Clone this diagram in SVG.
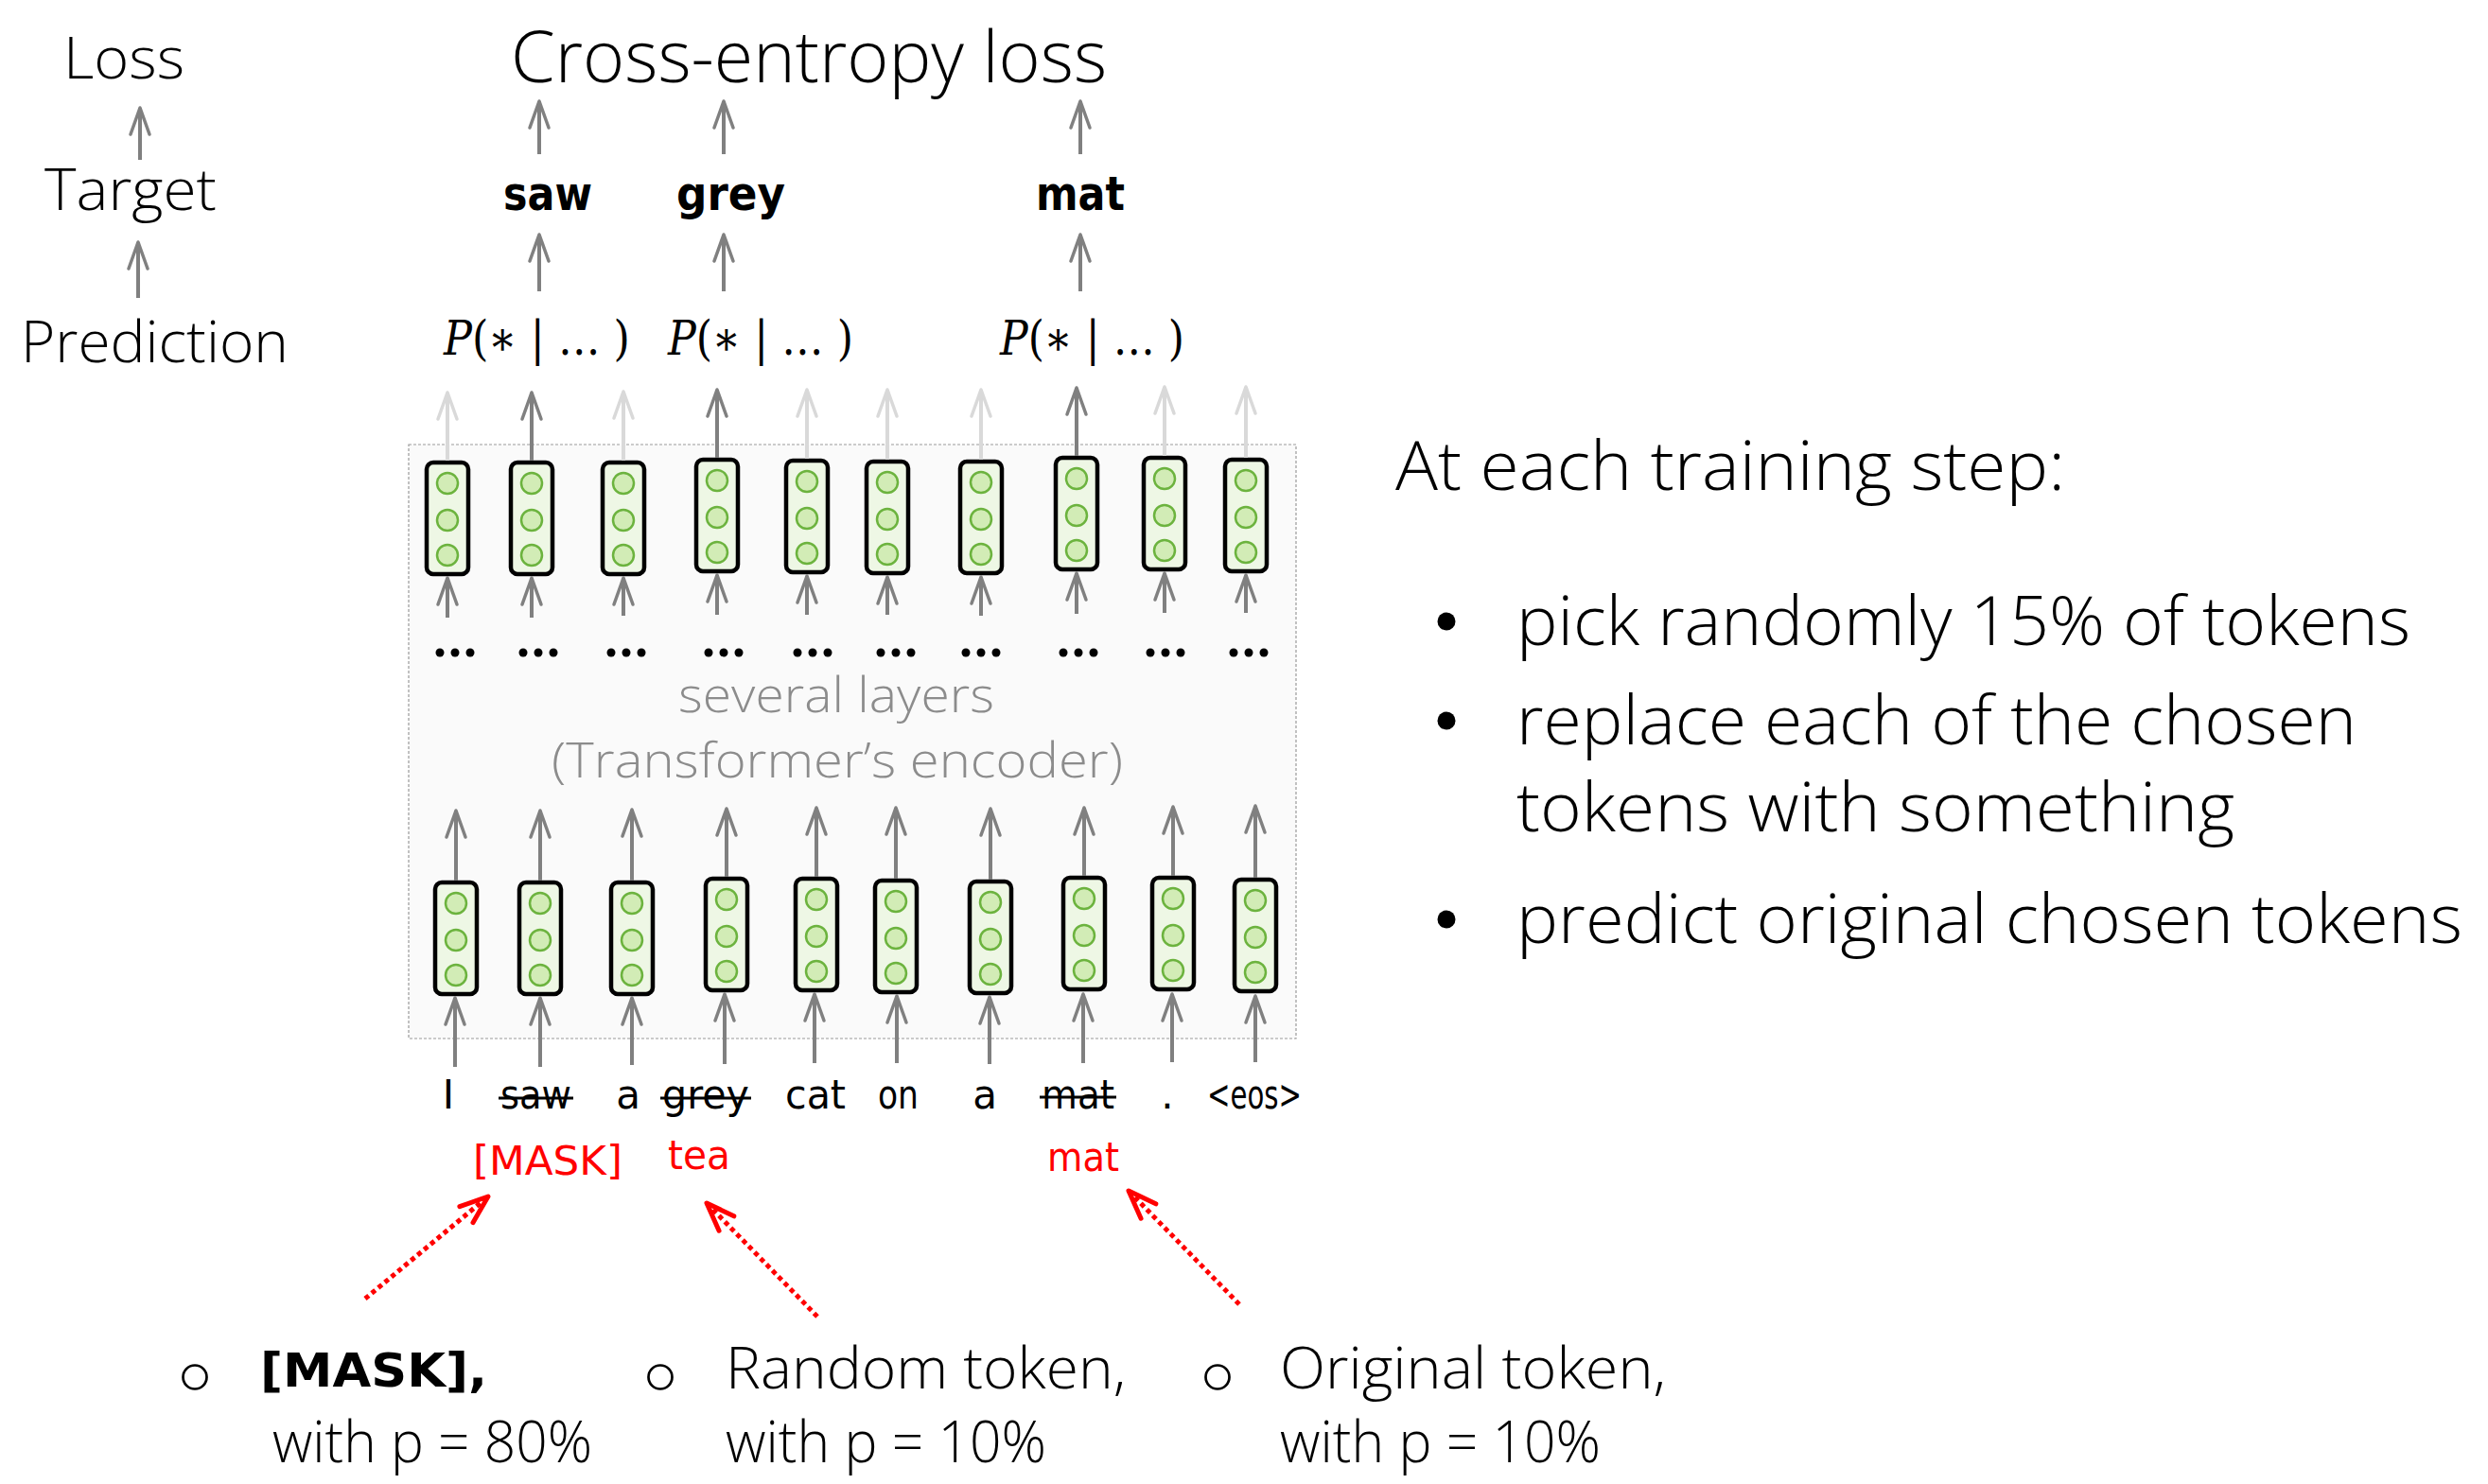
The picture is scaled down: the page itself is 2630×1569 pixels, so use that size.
<svg xmlns="http://www.w3.org/2000/svg" xmlns:xlink="http://www.w3.org/1999/xlink" width="2630" height="1569" viewBox="0 0 2630 1569">
<style>
.lbl{font-family:"Open Sans","Liberation Sans",sans-serif;font-weight:300;fill:#000}
.gry{fill:#8c8c8c}
.tok{font-family:"DejaVu Sans","Liberation Sans",sans-serif;font-size:42px;fill:#000}
.tgt{font-family:"DejaVu Sans","Liberation Sans",sans-serif;font-size:50px;font-weight:bold;fill:#000}
.math{font-family:"DejaVu Serif","Liberation Serif",serif;font-size:50px;fill:#000}
.red{fill:#ff0000}
.strike{stroke:#000;stroke-width:3}
.vec rect{fill:#eef7e5;stroke:#000;stroke-width:4.5}
.vec circle{fill:#d2ecb6;stroke:#6cb33e;stroke-width:2.5}
.ad{stroke:#808080;stroke-width:4;fill:none}
.al{stroke:#d9d9d9;stroke-width:4;fill:none}
.ar{stroke:#ff0000;stroke-width:5;stroke-dasharray:5 4;fill:none}
.dots circle{fill:#000}
.bul{fill:#000}
.obul{fill:none;stroke:#000;stroke-width:2.7}
</style>
<defs>
<marker id="mDark" markerUnits="userSpaceOnUse" markerWidth="40" markerHeight="40" viewBox="-34 -20 40 40" refX="0" refY="0" orient="auto">
<path d="M-28,-10 L0,0 L-28,10" fill="none" stroke="#808080" stroke-width="3.5" stroke-linejoin="round" stroke-linecap="round"/>
</marker>
<marker id="mLight" markerUnits="userSpaceOnUse" markerWidth="40" markerHeight="40" viewBox="-34 -20 40 40" refX="0" refY="0" orient="auto">
<path d="M-28,-10 L0,0 L-28,10" fill="none" stroke="#d9d9d9" stroke-width="3.5" stroke-linejoin="round" stroke-linecap="round"/>
</marker>
<marker id="mRed" markerUnits="userSpaceOnUse" markerWidth="44" markerHeight="44" viewBox="-36 -22 44 44" refX="0" refY="0" orient="auto">
<path d="M-30,-11 L0,0 L-30,11" fill="none" stroke="#ff0000" stroke-width="5" stroke-linejoin="round" stroke-linecap="round"/>
</marker>
<g id="vecShape" class="vec">
<rect x="-22" y="2" width="44" height="118" rx="7"/>
<circle cx="0" cy="24" r="11"/>
<circle cx="0" cy="63" r="11"/>
<circle cx="0" cy="100" r="11"/>
</g>
<g id="dot3" class="dots">
<circle cx="-16" cy="0" r="4.5"/>
<circle cx="0" cy="0" r="4.5"/>
<circle cx="16" cy="0" r="4.5"/>
</g>
</defs>

<rect width="2630" height="1569" fill="#ffffff"/>

<g id="encoder-box">
<rect x="432" y="470" width="938" height="628" fill="#fafafa" stroke="#9a9a9a" stroke-width="1.2" stroke-dasharray="3 2"/>
<text class="lbl gry" x="717" y="753" font-size="52" textLength="334" lengthAdjust="spacingAndGlyphs">several layers</text>
<text class="lbl gry" x="583" y="822" font-size="52" textLength="604" lengthAdjust="spacingAndGlyphs">(Transformer’s encoder)</text>
</g>

<g id="row-labels">
<text class="lbl" x="67" y="83" font-size="60" textLength="128" lengthAdjust="spacingAndGlyphs">Loss</text>
<text class="lbl" x="47" y="222" font-size="60" textLength="182" lengthAdjust="spacingAndGlyphs">Target</text>
<text class="lbl" x="22" y="383" font-size="60" textLength="283" lengthAdjust="spacingAndGlyphs">Prediction</text>
</g>

<g id="loss">
<text class="lbl" x="540" y="87" font-size="76" textLength="630" lengthAdjust="spacingAndGlyphs">Cross-entropy loss</text>
</g>

<g id="targets">
<text class="tgt" x="532" y="222" textLength="94" lengthAdjust="spacingAndGlyphs">saw</text>
<text class="tgt" x="715" y="222" textLength="115" lengthAdjust="spacingAndGlyphs">grey</text>
<text class="tgt" x="1095" y="222" textLength="94" lengthAdjust="spacingAndGlyphs">mat</text>
</g>

<g id="predictions">
<text class="math" x="469" y="375" textLength="197" lengthAdjust="spacingAndGlyphs"><tspan font-style="italic">P</tspan>(∗ | … )</text>
<text class="math" x="706" y="375" textLength="196" lengthAdjust="spacingAndGlyphs"><tspan font-style="italic">P</tspan>(∗ | … )</text>
<text class="math" x="1057" y="375" textLength="195" lengthAdjust="spacingAndGlyphs"><tspan font-style="italic">P</tspan>(∗ | … )</text>
</g>

<g id="top-vectors">
<use id="t1" xlink:href="#vecShape" transform="translate(473,487)"/>
<use id="t2" xlink:href="#vecShape" transform="translate(562,487)"/>
<use id="t3" xlink:href="#vecShape" transform="translate(659,487)"/>
<use id="t4" xlink:href="#vecShape" transform="translate(758,484)"/>
<use id="t5" xlink:href="#vecShape" transform="translate(853,485)"/>
<use id="t6" xlink:href="#vecShape" transform="translate(938,486)"/>
<use id="t7" xlink:href="#vecShape" transform="translate(1037,486)"/>
<use id="t8" xlink:href="#vecShape" transform="translate(1138,482)"/>
<use id="t9" xlink:href="#vecShape" transform="translate(1231,482)"/>
<use id="t10" xlink:href="#vecShape" transform="translate(1317,484)"/>
</g>

<g id="layer-dots">
<use xlink:href="#dot3" transform="translate(481,690)"/>
<use xlink:href="#dot3" transform="translate(569,690)"/>
<use xlink:href="#dot3" transform="translate(662,690)"/>
<use xlink:href="#dot3" transform="translate(765,690)"/>
<use xlink:href="#dot3" transform="translate(859,690)"/>
<use xlink:href="#dot3" transform="translate(947,690)"/>
<use xlink:href="#dot3" transform="translate(1037,690)"/>
<use xlink:href="#dot3" transform="translate(1140,690)"/>
<use xlink:href="#dot3" transform="translate(1232,690)"/>
<use xlink:href="#dot3" transform="translate(1320,690)"/>
</g>

<g id="bottom-vectors">
<use id="b1" xlink:href="#vecShape" transform="translate(482,931)"/>
<use id="b2" xlink:href="#vecShape" transform="translate(571,931)"/>
<use id="b3" xlink:href="#vecShape" transform="translate(668,931)"/>
<use id="b4" xlink:href="#vecShape" transform="translate(768,927)"/>
<use id="b5" xlink:href="#vecShape" transform="translate(863,927)"/>
<use id="b6" xlink:href="#vecShape" transform="translate(947,929)"/>
<use id="b7" xlink:href="#vecShape" transform="translate(1047,930)"/>
<use id="b8" xlink:href="#vecShape" transform="translate(1146,926)"/>
<use id="b9" xlink:href="#vecShape" transform="translate(1240,926)"/>
<use id="b10" xlink:href="#vecShape" transform="translate(1327,928)"/>
</g>

<g id="tokens">
<text class="tok" x="474" y="1172" text-anchor="middle">I</text>
<text class="tok" x="529" y="1172" textLength="75" lengthAdjust="spacingAndGlyphs">saw</text>
<text class="tok" x="664" y="1172" text-anchor="middle">a</text>
<text class="tok" x="700" y="1172" textLength="92" lengthAdjust="spacingAndGlyphs">grey</text>
<text class="tok" x="830" y="1172" textLength="64" lengthAdjust="spacingAndGlyphs">cat</text>
<text class="tok" x="928" y="1172" textLength="43" lengthAdjust="spacingAndGlyphs">on</text>
<text class="tok" x="1041" y="1172" text-anchor="middle">a</text>
<text class="tok" x="1101" y="1172" textLength="77" lengthAdjust="spacingAndGlyphs">mat</text>
<text class="tok" x="1234" y="1172" text-anchor="middle">.</text>
<text class="tok" x="1276" y="1172" textLength="100" lengthAdjust="spacingAndGlyphs">&lt;eos&gt;</text>
<line class="strike" x1="527" y1="1161" x2="606" y2="1161"/>
<line class="strike" x1="698" y1="1161" x2="794" y2="1161"/>
<line class="strike" x1="1099" y1="1160" x2="1180" y2="1160"/>
</g>

<g id="replacements">
<text class="tok red" x="500" y="1242" textLength="158" lengthAdjust="spacingAndGlyphs">[MASK]</text>
<text class="tok red" x="706" y="1236" textLength="66" lengthAdjust="spacingAndGlyphs">tea</text>
<text class="tok red" x="1107" y="1238" textLength="76" lengthAdjust="spacingAndGlyphs">mat</text>
</g>

<g id="option-mask">
<circle class="obul" cx="206" cy="1456" r="12.5"/>
<text class="tgt" x="275" y="1466" font-size="56" textLength="240" lengthAdjust="spacingAndGlyphs">[MASK],</text>
<text class="lbl" x="288" y="1546" font-size="60" textLength="338" lengthAdjust="spacingAndGlyphs">with p = 80%</text>
</g>

<g id="option-random">
<circle class="obul" cx="698" cy="1456" r="12.5"/>
<text class="lbl" x="767" y="1468" font-size="60" textLength="423" lengthAdjust="spacingAndGlyphs">Random token,</text>
<text class="lbl" x="767" y="1546" font-size="60" textLength="339" lengthAdjust="spacingAndGlyphs">with p = 10%</text>
</g>

<g id="option-original">
<circle class="obul" cx="1287" cy="1456" r="12.5"/>
<text class="lbl" x="1353" y="1468" font-size="60" textLength="408" lengthAdjust="spacingAndGlyphs">Original token,</text>
<text class="lbl" x="1353" y="1546" font-size="60" textLength="339" lengthAdjust="spacingAndGlyphs">with p = 10%</text>
</g>

<g id="training-steps">
<text class="lbl" x="1475" y="518" font-size="72" textLength="708" lengthAdjust="spacingAndGlyphs">At each training step:</text>
<circle class="bul" cx="1529" cy="657" r="9.5"/>
<text class="lbl" x="1603" y="682" font-size="72" textLength="945" lengthAdjust="spacingAndGlyphs">pick randomly 15% of tokens</text>
<circle class="bul" cx="1529" cy="762" r="9.5"/>
<text class="lbl" x="1603" y="787" font-size="72" textLength="888" lengthAdjust="spacingAndGlyphs">replace each of the chosen</text>
<text class="lbl" x="1603" y="879" font-size="72" textLength="759" lengthAdjust="spacingAndGlyphs">tokens with something</text>
<circle class="bul" cx="1529" cy="972" r="9.5"/>
<text class="lbl" x="1603" y="997" font-size="72" textLength="1000" lengthAdjust="spacingAndGlyphs">predict original chosen tokens</text>
</g>

<g id="connectors">
<line class="ad" x1="148" y1="169" x2="148" y2="114" marker-end="url(#mDark)"/>
<line class="ad" x1="146" y1="315" x2="146" y2="256" marker-end="url(#mDark)"/>
<line class="ad" x1="570" y1="163" x2="570" y2="107" marker-end="url(#mDark)"/>
<line class="ad" x1="765" y1="163" x2="765" y2="107" marker-end="url(#mDark)"/>
<line class="ad" x1="1142" y1="163" x2="1142" y2="107" marker-end="url(#mDark)"/>
<line class="ad" x1="570" y1="308" x2="570" y2="248" marker-end="url(#mDark)"/>
<line class="ad" x1="765" y1="308" x2="765" y2="248" marker-end="url(#mDark)"/>
<line class="ad" x1="1142" y1="308" x2="1142" y2="248" marker-end="url(#mDark)"/>
<line class="al" x1="473" y1="487" x2="473" y2="415" marker-end="url(#mLight)"/>
<line class="ad" x1="562" y1="487" x2="562" y2="415" marker-end="url(#mDark)"/>
<line class="al" x1="659" y1="487" x2="659" y2="414" marker-end="url(#mLight)"/>
<line class="ad" x1="758" y1="484" x2="758" y2="412" marker-end="url(#mDark)"/>
<line class="al" x1="853" y1="485" x2="853" y2="412" marker-end="url(#mLight)"/>
<line class="al" x1="938" y1="486" x2="938" y2="412" marker-end="url(#mLight)"/>
<line class="al" x1="1037" y1="486" x2="1037" y2="412" marker-end="url(#mLight)"/>
<line class="ad" x1="1138" y1="482" x2="1138" y2="410" marker-end="url(#mDark)"/>
<line class="al" x1="1231" y1="482" x2="1231" y2="409" marker-end="url(#mLight)"/>
<line class="al" x1="1317" y1="484" x2="1317" y2="409" marker-end="url(#mLight)"/>
<line class="ad" x1="473" y1="653" x2="473" y2="611" marker-end="url(#mDark)"/>
<line class="ad" x1="562" y1="653" x2="562" y2="611" marker-end="url(#mDark)"/>
<line class="ad" x1="659" y1="651" x2="659" y2="611" marker-end="url(#mDark)"/>
<line class="ad" x1="758" y1="650" x2="758" y2="608" marker-end="url(#mDark)"/>
<line class="ad" x1="853" y1="650" x2="853" y2="609" marker-end="url(#mDark)"/>
<line class="ad" x1="938" y1="650" x2="938" y2="610" marker-end="url(#mDark)"/>
<line class="ad" x1="1037" y1="651" x2="1037" y2="610" marker-end="url(#mDark)"/>
<line class="ad" x1="1138" y1="649" x2="1138" y2="606" marker-end="url(#mDark)"/>
<line class="ad" x1="1231" y1="648" x2="1231" y2="606" marker-end="url(#mDark)"/>
<line class="ad" x1="1317" y1="648" x2="1317" y2="608" marker-end="url(#mDark)"/>
<line class="ad" x1="482" y1="931" x2="482" y2="857" marker-end="url(#mDark)"/>
<line class="ad" x1="571" y1="931" x2="571" y2="857" marker-end="url(#mDark)"/>
<line class="ad" x1="668" y1="931" x2="668" y2="856" marker-end="url(#mDark)"/>
<line class="ad" x1="768" y1="927" x2="768" y2="855" marker-end="url(#mDark)"/>
<line class="ad" x1="863" y1="927" x2="863" y2="854" marker-end="url(#mDark)"/>
<line class="ad" x1="947" y1="929" x2="947" y2="854" marker-end="url(#mDark)"/>
<line class="ad" x1="1047" y1="930" x2="1047" y2="855" marker-end="url(#mDark)"/>
<line class="ad" x1="1146" y1="926" x2="1146" y2="854" marker-end="url(#mDark)"/>
<line class="ad" x1="1240" y1="926" x2="1240" y2="853" marker-end="url(#mDark)"/>
<line class="ad" x1="1327" y1="928" x2="1327" y2="852" marker-end="url(#mDark)"/>
<line class="ad" x1="481" y1="1128" x2="481" y2="1055" marker-end="url(#mDark)"/>
<line class="ad" x1="571" y1="1128" x2="571" y2="1055" marker-end="url(#mDark)"/>
<line class="ad" x1="668" y1="1126" x2="668" y2="1055" marker-end="url(#mDark)"/>
<line class="ad" x1="766" y1="1125" x2="766" y2="1051" marker-end="url(#mDark)"/>
<line class="ad" x1="861" y1="1124" x2="861" y2="1051" marker-end="url(#mDark)"/>
<line class="ad" x1="948" y1="1124" x2="948" y2="1053" marker-end="url(#mDark)"/>
<line class="ad" x1="1046" y1="1125" x2="1046" y2="1054" marker-end="url(#mDark)"/>
<line class="ad" x1="1145" y1="1124" x2="1145" y2="1051" marker-end="url(#mDark)"/>
<line class="ad" x1="1239" y1="1123" x2="1239" y2="1051" marker-end="url(#mDark)"/>
<line class="ad" x1="1327" y1="1123" x2="1327" y2="1053" marker-end="url(#mDark)"/>
<line class="ar" x1="386" y1="1373" x2="516" y2="1265" marker-end="url(#mRed)"/>
<line class="ar" x1="864" y1="1392" x2="747" y2="1272" marker-end="url(#mRed)"/>
<line class="ar" x1="1310" y1="1379" x2="1193" y2="1259" marker-end="url(#mRed)"/>
</g>
</svg>
